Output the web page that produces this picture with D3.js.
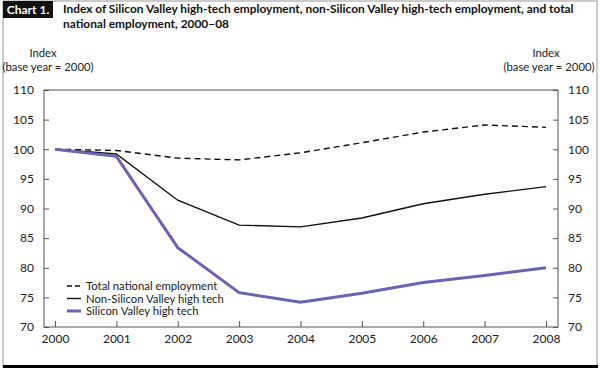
<!DOCTYPE html>
<html><head><meta charset="utf-8">
<script src="https://cdn.jsdelivr.net/npm/d3@7"></script>
<style>
body{margin:0;background:#fff;}
svg{display:block;font-family:Lato, "Open Sans", sans-serif;}
</style></head>
<body>
<svg id="c" width="600" height="372"></svg>
<script>
const years = [2000,2001,2002,2003,2004,2005,2006,2007,2008];
const totalNational = [100,99.8,98.5,98.2,99.4,101.1,102.9,104.1,103.7];
const nonSV = [100,99.2,91.4,87.2,86.9,88.4,90.8,92.4,93.7];
const sv = [100,98.8,83.4,75.8,74.2,75.7,77.5,78.7,80.0];
const yTicks = [70,75,80,85,90,95,100,105,110];
const seriesNames = ["Total national employment","Non-Silicon Valley high tech","Silicon Valley high tech"];
const titleLines = ["Index of Silicon Valley high-tech employment, non-Silicon Valley high-tech employment, and total","national employment, 2000\u201308"];

const svg = d3.select("#c");
const L=44,R=558,T=90,B=327;
const x = d3.scaleLinear().domain([2000,2008]).range([55,546]);
const y = d3.scaleLinear().domain([70,110]).range([B,T]);

// frame
svg.append("rect").attr("x",3).attr("y",1).attr("width",594).attr("height",366)
  .attr("fill","none").attr("stroke","#9a9a9a").attr("stroke-width",1);
svg.append("line").attr("x1",3).attr("x2",598).attr("y1",366.5).attr("y2",366.5)
  .attr("stroke","#000").attr("stroke-width",3);
// header
svg.append("rect").attr("x",3).attr("y",1).attr("width",50).attr("height",17).attr("fill","#111");
svg.append("text").attr("x",28).attr("y",14).attr("text-anchor","middle").attr("fill","#fff")
  .attr("font-weight","bold").attr("font-size",12).text("Chart 1.");
svg.append("g").selectAll("text").data(titleLines).join("text")
  .attr("x",63).attr("y",(d,i)=>13+i*15).attr("font-weight","bold").attr("font-size",11.9)
  .attr("fill","#111").text(d=>d);

// plot box
svg.append("rect").attr("x",L).attr("y",T).attr("width",R-L).attr("height",B-T)
  .attr("fill","none").attr("stroke","#555").attr("stroke-width",1);

const axL = d3.axisLeft(y).tickValues(yTicks).tickSize(-5).tickPadding(10);
const axR = d3.axisRight(y).tickValues(yTicks).tickSize(-5).tickPadding(10);
const axB = d3.axisBottom(x).tickValues(years).tickFormat(d3.format("d")).tickSize(-6).tickPadding(7);
function style(g){
  g.select(".domain").remove();
  g.selectAll(".tick line").attr("stroke","#555");
  g.selectAll("text").attr("font-size",12).attr("fill","#222").attr("font-family","Lato, sans-serif");
}
svg.append("g").attr("transform",`translate(${L},0)`).call(axL).call(style);
svg.append("g").attr("transform",`translate(${R},0)`).call(axR).call(style);
svg.append("g").attr("transform",`translate(0,${B})`).call(axB).call(style);

// axis titles
[["Index",43,57],["(base year = 2000)",48,71]].forEach(([t,xx,yy])=>
  svg.append("text").attr("x",xx).attr("y",yy).attr("text-anchor","middle").attr("font-size",11.3).attr("fill","#222").text(t));
[["Index",546,57],["(base year = 2000)",549,71]].forEach(([t,xx,yy])=>
  svg.append("text").attr("x",xx).attr("y",yy).attr("text-anchor","middle").attr("font-size",11.3).attr("fill","#222").text(t));

const line = d3.line().x((d,i)=>x(years[i])).y(d=>y(d));
const styles = [
  {data:totalNational, stroke:"#111", w:1.4, dash:"6,4"},
  {data:nonSV, stroke:"#111", w:1.4, dash:null},
  {data:sv, stroke:"#6b64b3", w:3, dash:null}
];
styles.forEach(s=>{
  svg.append("path").datum(s.data).attr("d",line).attr("fill","none")
    .attr("stroke",s.stroke).attr("stroke-width",s.w).attr("stroke-dasharray",s.dash);
});

// legend
const lg = svg.append("g");
styles.forEach((s,i)=>{
  const yy = 286+i*12.5;
  lg.append("line").attr("x1",67).attr("x2",81).attr("y1",yy).attr("y2",yy)
    .attr("stroke",s.stroke).attr("stroke-width",s.w).attr("stroke-dasharray",s.dash?"5,3":null);
  lg.append("text").attr("x",86).attr("y",yy+4).attr("font-size",11.3).attr("fill","#222").text(seriesNames[i]);
});
</script>
</body></html>
